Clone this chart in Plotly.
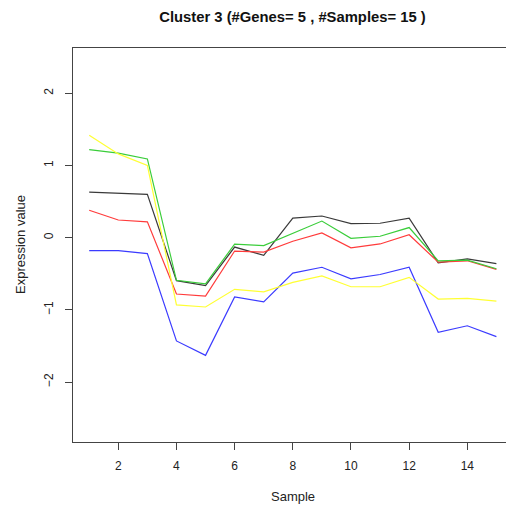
import plotly.graph_objects as go

samples = list(range(1, 16))
gene_black = [0.63, 0.615, 0.60, -0.595, -0.665, -0.13, -0.245, 0.27, 0.30, 0.195, 0.20, 0.27, -0.35, -0.295, -0.36]
gene_red = [0.38, 0.245, 0.22, -0.78, -0.81, -0.185, -0.20, -0.05, 0.065, -0.14, -0.087, 0.04, -0.34, -0.32, -0.44]
gene_green = [1.22, 1.17, 1.09, -0.59, -0.64, -0.09, -0.11, 0.06, 0.23, -0.01, 0.02, 0.14, -0.32, -0.31, -0.43]
gene_blue = [-0.18, -0.18, -0.22, -1.43, -1.63, -0.82, -0.89, -0.49, -0.41, -0.57, -0.51, -0.41, -1.31, -1.22, -1.37]
gene_yellow = [1.42, 1.16, 1.00, -0.93, -0.96, -0.715, -0.75, -0.62, -0.53, -0.68, -0.68, -0.55, -0.85, -0.84, -0.88]

series = [
    (gene_black, "#3a3a3a"),
    (gene_red, "#FF3b3b"),
    (gene_green, "#3acd3a"),
    (gene_blue, "#3b3bFF"),
    (gene_yellow, "#FFFF33"),
]

x_ticks = [2, 4, 6, 8, 10, 12, 14]
y_ticks = [-2, -1, 0, 1, 2]
y_tick_text = ["\u22122", "\u22121", "0", "1", "2"]

fig = go.Figure()
for vals, col in series:
    fig.add_trace(go.Scatter(x=samples, y=vals, mode="lines",
                             line=dict(color=col, width=1.2), showlegend=False,
                             hoverinfo="skip"))

font = "Liberation Sans, Arial, Helvetica, sans-serif"
L, T, B = 73, 48, 64
pw, ph = 506 - L, 506 - T - B

fig.update_layout(
    width=506, height=506,
    margin=dict(l=L, r=0, t=T, b=B),
    paper_bgcolor="white", plot_bgcolor="white",
    font=dict(family=font, size=12, color="#222222"),
    title=dict(text="<b>Cluster 3 (#Genes= 5 , #Samples= 15 )</b>",
               x=292.5/506, xref="container", xanchor="center",
               y=1 - 17/506, yref="container", yanchor="middle",
               font=dict(family=font, size=14.8, color="#111111")),
    xaxis=dict(range=[0.443, 15.33], tickvals=x_ticks, ticktext=[str(v) for v in x_ticks],
               showgrid=False, zeroline=False, showline=True, mirror=True,
               linecolor="#444444", linewidth=1, ticks="outside", ticklen=7,
               tickcolor="#444444", ticklabelstandoff=6),
    yaxis=dict(range=[-2.83, 2.627], tickvals=y_ticks, ticktext=y_tick_text,
               showgrid=False, zeroline=False, showline=True, mirror=False,
               linecolor="#444444", linewidth=1, ticks="outside", ticklen=7,
               tickcolor="#444444", tickangle=-90, ticklabelstandoff=7),
    annotations=[
        dict(text="Sample", x=(292.5 - L) / pw, y=(506 - B - 496) / ph,
             xref="paper", yref="paper",
             showarrow=False, font=dict(family=font, size=13, color="#222222"),
             xanchor="center", yanchor="middle"),
        dict(text="Expression value", x=(20 - L) / pw, y=(442 - 245) / ph,
             xref="paper", yref="paper",
             showarrow=False, textangle=-90, font=dict(family=font, size=13, color="#222222"),
             xanchor="center", yanchor="middle"),
    ],
)

fig.write_html("out.html")
